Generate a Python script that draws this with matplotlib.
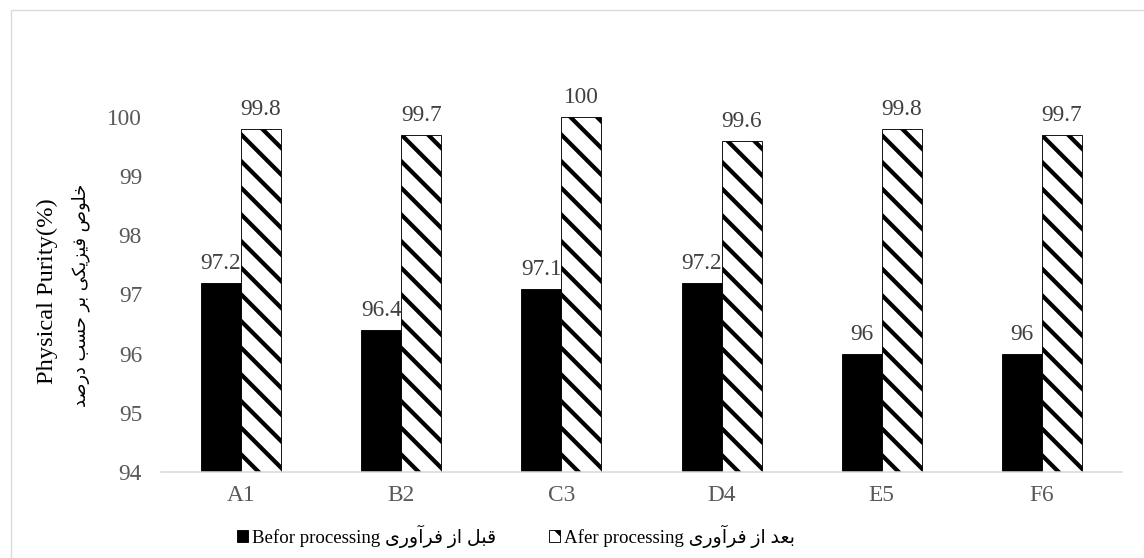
import matplotlib
matplotlib.use("Agg")
import matplotlib.pyplot as plt
import numpy as np
from matplotlib.patches import Rectangle

# data
categories = ["A1", "B2", "C3", "D4", "E5", "F6"]
before = [97.2, 96.4, 97.1, 97.2, 96.0, 96.0]
after = [99.8, 99.7, 100.0, 99.6, 99.8, 99.7]
yticks = [94, 95, 96, 97, 98, 99, 100]

ylab_en = "Physical Purity(%)"
ylab_fa = "خلوص فیزیکی بر حسب درصد"
before_en = "Befor processing"
before_fa = "قبل از فرآوری"
after_en = "Afer processing"
after_fa = "بعد از فرآوری"

# simple arabic/persian shaping (presentation forms), matplotlib has no shaping
FORMS = {
    'ا': ('\uFE8D', '\uFE8E', None, None),
    'آ': ('\uFE81', '\uFE82', None, None),
    'د': ('\uFEA9', '\uFEAA', None, None),
    'ر': ('\uFEAD', '\uFEAE', None, None),
    'ز': ('\uFEAF', '\uFEB0', None, None),
    'و': ('\uFEED', '\uFEEE', None, None),
    'ب': ('\uFE8F', '\uFE90', '\uFE91', '\uFE92'),
    'ح': ('\uFEA1', '\uFEA2', '\uFEA3', '\uFEA4'),
    'خ': ('\uFEA5', '\uFEA6', '\uFEA7', '\uFEA8'),
    'س': ('\uFEB1', '\uFEB2', '\uFEB3', '\uFEB4'),
    'ص': ('\uFEB9', '\uFEBA', '\uFEBB', '\uFEBC'),
    'ع': ('\uFEC9', '\uFECA', '\uFECB', '\uFECC'),
    'ف': ('\uFED1', '\uFED2', '\uFED3', '\uFED4'),
    'ق': ('\uFED5', '\uFED6', '\uFED7', '\uFED8'),
    'ک': ('\uFB8E', '\uFB8F', '\uFB90', '\uFB91'),
    'ل': ('\uFEDD', '\uFEDE', '\uFEDF', '\uFEE0'),
    'ی': ('\uFBFC', '\uFBFD', '\uFBFE', '\uFBFF'),
}


def rtl(text):
    out = []
    for i, ch in enumerate(text):
        f = FORMS.get(ch)
        if f is None:
            out.append(ch)
            continue
        prev = text[i - 1] if i > 0 else None
        nxt = text[i + 1] if i + 1 < len(text) else None
        jp = prev in FORMS and FORMS[prev][2] is not None
        jn = f[2] is not None and nxt in FORMS
        if jp and jn:
            out.append(f[3])
        elif jp:
            out.append(f[1])
        elif jn:
            out.append(f[2])
        else:
            out.append(f[0])
    return "".join(out)[::-1]


plt.rcParams['font.family'] = ['Liberation Serif', 'DejaVu Sans']
plt.rcParams['hatch.linewidth'] = 3.8
plt.rcParams['hatch.color'] = 'black'

DPI = 80
fig = plt.figure(figsize=(1144 / DPI, 558 / DPI), dpi=DPI)
ax = fig.add_axes([161 / 1144, 1 - 472 / 558, (1122 - 161) / 1144, (472 - 117) / 558])

# outer light border
fig.patches.append(Rectangle((11 / 1144, -0.1), 1.2, 1.1 - 10 / 558,
                             transform=fig.transFigure, fill=False,
                             edgecolor='#d9d9d9', linewidth=1.2))

x = np.arange(len(categories))
w = 0.25
b1 = ax.bar(x - w / 2, before, w, color='black', edgecolor='black',
            linewidth=0.8, label=before_en + " " + rtl(before_fa))
b2 = ax.bar(x + w / 2, after, w, color='white', edgecolor='black', hatch='\\',
            linewidth=0.8, label=after_en + " " + rtl(after_fa))

ax.bar_label(b1, fmt='%g', padding=8, fontsize=21, color='#404040')
ax.bar_label(b2, fmt='%g', padding=8, fontsize=21, color='#404040')

ax.set_ylim(94, 100)
ax.set_xlim(-0.5, len(categories) - 0.5)
ax.set_yticks(yticks)
ax.set_xticks(x)
ax.set_xticklabels(categories)
ax.tick_params(axis='both', length=0, labelsize=21, labelcolor='#595959')
ax.tick_params(axis='x', pad=12)
ax.tick_params(axis='y', pad=17)
for s in ['top', 'right', 'left']:
    ax.spines[s].set_visible(False)
ax.spines['bottom'].set_color('#d9d9d9')
ax.spines['bottom'].set_linewidth(1.4)

fig.text(47 / 1144, 1 - 291 / 558, ylab_en, rotation=90, ha='center', va='center',
         fontsize=22, color='black')
fig.text(81 / 1144, 1 - 295 / 558, rtl(ylab_fa), rotation=90, ha='center', va='center',
         fontsize=16, color='black', family=['DejaVu Sans'])

fig.legend(handles=[b1, b2], loc='center', bbox_to_anchor=(516 / 1144, 1 - 536 / 558),
           ncol=2, frameon=False, fontsize=17, handlelength=0.6, handleheight=0.6,
           handletextpad=0.2, columnspacing=2.8, borderpad=0)

fig.savefig("out.png", dpi=DPI)
